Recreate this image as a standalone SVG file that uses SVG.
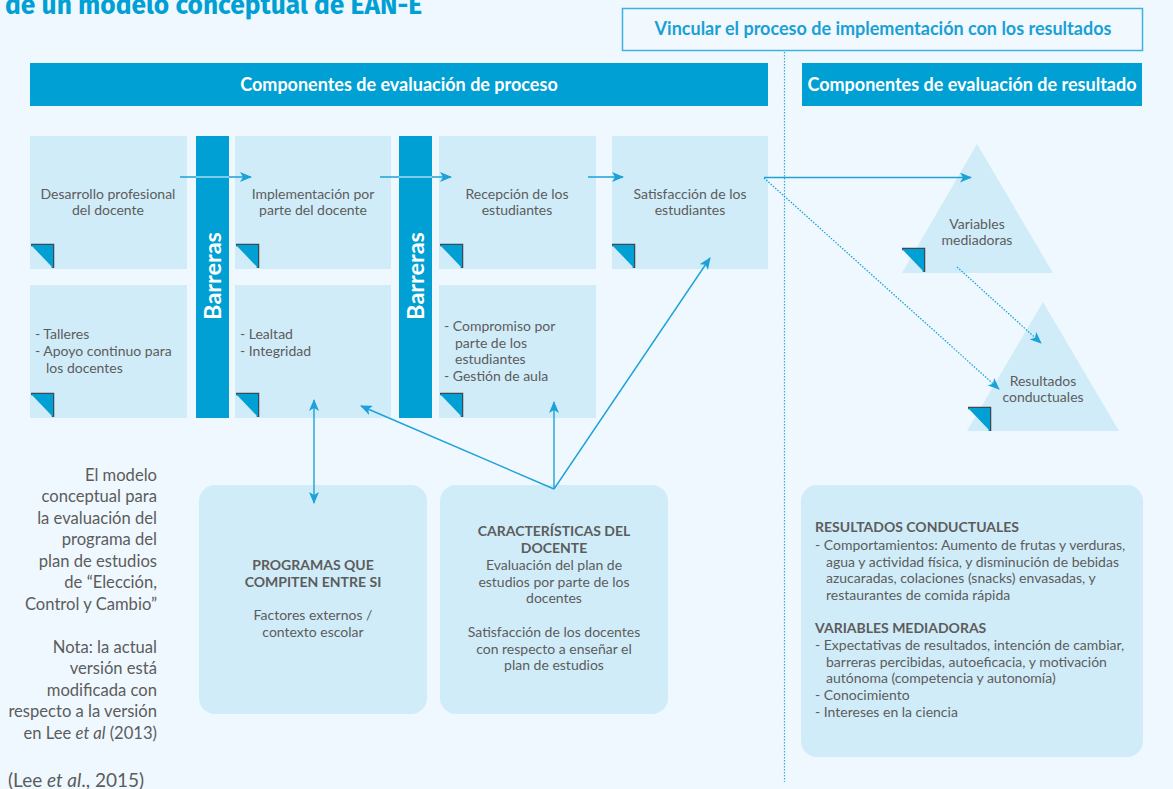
<svg xmlns="http://www.w3.org/2000/svg" width="1173" height="789" viewBox="0 0 1173 789">
  <defs>
    <style>
      .bg { fill: #eff8fe; }
      .box { fill: #d0ecf9; }
      .bar { fill: #00a0d4; }
      .t { font-family: Lato, "Open Sans", "Liberation Sans", sans-serif; font-size: 14px; fill: #5c5c5c; }
      .c { text-anchor: middle; }
      .b { font-weight: 700; }
      .hdr { font-family: Lato, "Open Sans", "Liberation Sans", sans-serif; font-size: 18px; font-weight: 700; fill: #ffffff; text-anchor: middle; }
      .bar-t { font-family: Lato, "Open Sans", "Liberation Sans", sans-serif; font-size: 23.5px; font-weight: 700; fill: #ffffff; text-anchor: middle; }
      .side { font-family: Lato, "Open Sans", "Liberation Sans", sans-serif; font-size: 16.6px; fill: #5c5c5c; text-anchor: end; }
      .ln { fill: none; stroke: #1ca2d8; stroke-width: 1.4; }
      .dot { fill: none; stroke: #1ca2d8; stroke-width: 1.3; stroke-dasharray: 1.5 1.5; }
    </style>
    <marker id="ah" viewBox="0 0 12 10" refX="11" refY="5" markerWidth="12" markerHeight="10" markerUnits="userSpaceOnUse" orient="auto-start-reverse">
      <path d="M0,0 L12,5 L0,10 L3,5 z" fill="#1ca2d8"/>
    </marker>
    <filter id="soft" x="-30%" y="-30%" width="160%" height="160%">
      <feGaussianBlur stdDeviation="0.7"/>
    </filter>
    <!-- folded corner mark used on every box -->
    <g id="fold">
      <polyline points="0,0 22,0 22,23" fill="none" stroke="#3e4a52" stroke-width="2.5" filter="url(#soft)"/>
      <polygon points="0,0 22,0 22,23" fill="#00a0d4"/>
    </g>
  </defs>

  <rect class="bg" x="0" y="0" width="1173" height="789"/>

  <!-- title (runs off the top edge) -->
  <text x="5" y="14" font-family="'Fira Sans', Lato, 'Open Sans', 'Liberation Sans', sans-serif" font-size="27" font-weight="700" fill="#00a0d4" textLength="417" lengthAdjust="spacingAndGlyphs">de un modelo conceptual de EAN-E</text>

  <!-- headers -->
  <g id="link-header">
    <rect x="622.5" y="8.5" width="520" height="42" fill="#f2f9fe" stroke="#3fb1dd" stroke-width="1.5"/>
    <text x="883" y="35" font-family="Lato, 'Open Sans', 'Liberation Sans', sans-serif" font-size="18" font-weight="700" fill="#1aa0d5" text-anchor="middle">Vincular el proceso de implementación con los resultados</text>
  </g>
  <g id="process-header">
    <rect class="bar" x="30" y="63" width="738" height="43"/>
    <text class="hdr" x="399" y="91">Componentes de evaluación de proceso</text>
  </g>
  <g id="result-header">
    <rect class="bar" x="802" y="63" width="340" height="43"/>
    <text class="hdr" x="972" y="91">Componentes de evaluación de resultado</text>
  </g>

  <!-- separator between process and results -->
  <line x1="784.5" y1="52" x2="784.5" y2="782" stroke="#35aedc" stroke-width="1.2" stroke-dasharray="1.5 1.5"/>

  <!-- process boxes, top row -->
  <g id="n-desarrollo">
    <rect class="box" x="30" y="136" width="157" height="133"/>
    <use href="#fold" x="31" y="245"/>
    <text class="t c" x="108" y="199">Desarrollo profesional</text>
    <text class="t c" x="108" y="215">del docente</text>
  </g>
  <g id="n-implementacion">
    <rect class="box" x="235" y="136" width="156" height="133"/>
    <use href="#fold" x="236" y="245"/>
    <text class="t c" x="313" y="199">Implementación por</text>
    <text class="t c" x="313" y="215">parte del docente</text>
  </g>
  <g id="n-recepcion">
    <rect class="box" x="439" y="136" width="157" height="133"/>
    <use href="#fold" x="440" y="245"/>
    <text class="t c" x="517" y="199">Recepción de los</text>
    <text class="t c" x="517" y="215">estudiantes</text>
  </g>
  <g id="n-satisfaccion">
    <rect class="box" x="612" y="136" width="156" height="133"/>
    <use href="#fold" x="612" y="245"/>
    <text class="t c" x="690" y="199">Satisfacción de los</text>
    <text class="t c" x="690" y="215">estudiantes</text>
  </g>

  <!-- process boxes, bottom row -->
  <g id="n-talleres">
    <rect class="box" x="30" y="285" width="157" height="133"/>
    <use href="#fold" x="31" y="394"/>
    <text class="t" x="35" y="339">- Talleres</text>
    <text class="t" x="35" y="356">- Apoyo continuo para</text>
    <text class="t" x="46" y="373">los docentes</text>
  </g>
  <g id="n-lealtad">
    <rect class="box" x="235" y="285" width="156" height="133"/>
    <use href="#fold" x="236" y="394"/>
    <text class="t" x="240" y="339">- Lealtad</text>
    <text class="t" x="240" y="356">- Integridad</text>
  </g>
  <g id="n-compromiso">
    <rect class="box" x="439" y="285" width="157" height="133"/>
    <use href="#fold" x="440" y="394"/>
    <text class="t" x="444" y="331">- Compromiso por</text>
    <text class="t" x="455" y="348">parte de los</text>
    <text class="t" x="455" y="364">estudiantes</text>
    <text class="t" x="444" y="381">- Gestión de aula</text>
  </g>

  <!-- barriers -->
  <g id="barreras-1">
    <rect class="bar" x="196" y="136" width="33" height="282"/>
    <text class="bar-t" transform="translate(220.5,276) rotate(-90)">Barreras</text>
  </g>
  <g id="barreras-2">
    <rect class="bar" x="399" y="136" width="33" height="282"/>
    <text class="bar-t" transform="translate(423.5,276) rotate(-90)">Barreras</text>
  </g>

  <!-- result triangles -->
  <g id="n-mediadoras">
    <polygon class="box" points="977,144 1053,273 902,273"/>
    <use href="#fold" x="902" y="249"/>
    <text class="t c" x="977" y="229">Variables</text>
    <text class="t c" x="977" y="245">mediadoras</text>
  </g>
  <g id="n-resultados">
    <polygon class="box" points="1043,302 1119,431 967,431"/>
    <use href="#fold" x="968" y="408"/>
    <text class="t c" x="1043" y="386">Resultados</text>
    <text class="t c" x="1043" y="402">conductuales</text>
  </g>

  <!-- lower rounded panels -->
  <g id="n-programas">
    <rect class="box" x="199" y="485" width="228" height="229" rx="16"/>
    <text class="t c b" x="313" y="570">PROGRAMAS QUE</text>
    <text class="t c b" x="313" y="587">COMPITEN ENTRE SI</text>
    <text class="t c" x="313" y="620">Factores externos /</text>
    <text class="t c" x="313" y="637">contexto escolar</text>
  </g>
  <g id="n-caracteristicas">
    <rect class="box" x="440" y="485" width="228" height="229" rx="16"/>
    <text class="t c b" x="554" y="536">CARACTERÍSTICAS DEL</text>
    <text class="t c b" x="554" y="553">DOCENTE</text>
    <text class="t c" x="554" y="570">Evaluación del plan de</text>
    <text class="t c" x="554" y="587">estudios por parte de los</text>
    <text class="t c" x="554" y="603">docentes</text>
    <text class="t c" x="554" y="637">Satisfacción de los docentes</text>
    <text class="t c" x="554" y="654">con respecto a enseñar el</text>
    <text class="t c" x="554" y="670">plan de estudios</text>
  </g>
  <g id="n-detalle-resultados">
    <rect class="box" x="801" y="485" width="342" height="272" rx="16"/>
    <text class="t b" x="815" y="532">RESULTADOS CONDUCTUALES</text>
    <text class="t" x="815" y="550">- Comportamientos: Aumento de frutas y verduras,</text>
    <text class="t" x="826" y="567">agua y actividad física, y disminución de bebidas</text>
    <text class="t" x="826" y="583">azucaradas, colaciones (snacks) envasadas, y</text>
    <text class="t" x="826" y="600">restaurantes de comida rápida</text>
    <text class="t b" x="815" y="633">VARIABLES MEDIADORAS</text>
    <text class="t" x="815" y="650">- Expectativas de resultados, intención de cambiar,</text>
    <text class="t" x="826" y="667">barreras percibidas, autoeficacia, y motivación</text>
    <text class="t" x="826" y="683">autónoma (competencia y autonomía)</text>
    <text class="t" x="815" y="700">- Conocimiento</text>
    <text class="t" x="815" y="717">- Intereses en la ciencia</text>
  </g>

  <!-- connectors -->
  <g id="connectors">
    <line class="ln" x1="180" y1="177" x2="251" y2="177" marker-end="url(#ah)"/>
    <line x1="196" y1="177" x2="229" y2="177" stroke="#e6f5fc" stroke-width="1"/>
    <line class="ln" x1="380" y1="177" x2="451" y2="177" marker-end="url(#ah)"/>
    <line x1="399" y1="177" x2="432" y2="177" stroke="#e6f5fc" stroke-width="1"/>
    <line class="ln" x1="588" y1="177" x2="623" y2="177" marker-end="url(#ah)"/>
    <line class="ln" x1="764" y1="177.5" x2="971" y2="177.5" marker-end="url(#ah)"/>
    <line class="dot" x1="764" y1="178" x2="999" y2="389" marker-end="url(#ah)"/>
    <line class="dot" x1="957" y1="267" x2="1041" y2="343" marker-end="url(#ah)"/>
    <line class="ln" x1="314" y1="400" x2="314" y2="503" marker-start="url(#ah)" marker-end="url(#ah)"/>
    <line class="ln" x1="554" y1="489" x2="361" y2="406" marker-end="url(#ah)"/>
    <line class="ln" x1="554" y1="489" x2="554" y2="402" marker-end="url(#ah)"/>
    <line class="ln" x1="554" y1="489" x2="710" y2="258" marker-end="url(#ah)"/>
  </g>

  <!-- caption -->
  <g id="caption">
    <text class="side" x="157" y="481">El modelo</text>
    <text class="side" x="157" y="502">conceptual para</text>
    <text class="side" x="157" y="524">la evaluación del</text>
    <text class="side" x="157" y="545">programa del</text>
    <text class="side" x="157" y="567">plan de estudios</text>
    <text class="side" x="157" y="588">de “Elección,</text>
    <text class="side" x="157" y="610">Control y Cambio”</text>
    <text class="side" x="157" y="653">Nota: la actual</text>
    <text class="side" x="157" y="674">versión está</text>
    <text class="side" x="157" y="696">modificada con</text>
    <text class="side" x="157" y="717">respecto a la versión</text>
    <text class="side" x="157" y="739">en Lee <tspan font-style="italic">et al</tspan> (2013)</text>
    <text x="8" y="787" font-family="Lato, 'Open Sans', 'Liberation Sans', sans-serif" font-size="19" fill="#5c5c5c">(Lee <tspan font-style="italic">et al</tspan>., 2015)</text>
  </g>
</svg>
